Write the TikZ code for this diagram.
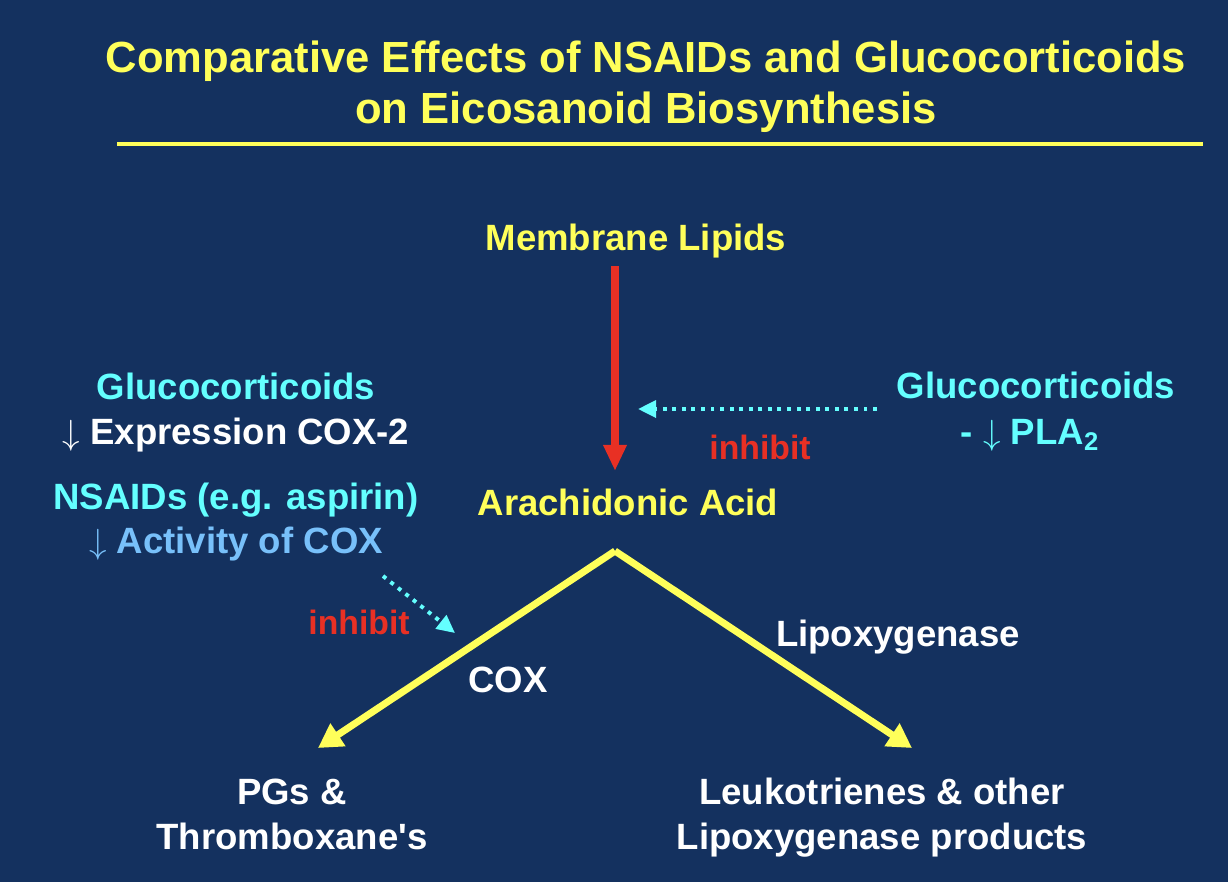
\documentclass[tikz,border=0pt]{standalone}
\usepackage{fontspec}
\setmainfont{Liberation Sans}
\usetikzlibrary{arrows.meta, positioning}
\definecolor{slidebg}{RGB}{20,49,95}
\definecolor{slideyellow}{RGB}{255,255,90}
\definecolor{drugcyan}{RGB}{100,255,255}
\definecolor{coxblue}{RGB}{120,192,250}
\definecolor{inhibred}{RGB}{232,48,36}

\begin{document}
\begin{tikzpicture}[x=0.025cm, y=-0.025cm,
    lbl/.style={font=\fontsize{26}{32}\selectfont\bfseries, align=center, inner sep=0pt,
        text height=0.75em, text depth=0.22em},
    inhibitlbl/.style={lbl, font=\fontsize{24}{28}\selectfont\bfseries, inhibred},
    flowarrow/.style={-{Triangle[length=0.65cm, width=0.55cm]}, line width=5pt, inhibred},
    patharrow/.style={-{Triangle[length=0.6cm, width=0.65cm]}, line width=5pt, slideyellow},
    blockarrow/.style={-{Triangle[length=0.45cm, width=0.42cm]}, line width=2.8pt, drugcyan,
        dash pattern=on 2.8pt off 4pt}]
    \fill[slidebg] (0,0) rectangle (1228,882);

    % title
    \node[font=\fontsize{31}{36}\selectfont\bfseries, slideyellow, align=center] (title) at (646,87)
        {Comparative Effects of NSAIDs and Glucocorticoids\\on Eicosanoid Biosynthesis};
    \draw[slideyellow, line width=3pt] (117,144) -- (1203,144);

    % main pathway
    \node[lbl, slideyellow] (membrane) at (636,247) {Membrane Lipids};
    \node[lbl, slideyellow] (arachid) at (628,512) {Arachidonic Acid};
    \coordinate (apex) at (615,551);
    \coordinate (coxtip) at (318,748);
    \coordinate (loxtip) at (912,748);
    \draw[flowarrow, shorten <=0.3cm, shorten >=0.85cm]
        (membrane.south -| apex) -- (arachid.north -| apex);
    \draw[patharrow] (apex) -- (coxtip);
    \draw[patharrow] (apex) -- (loxtip);
    \node[lbl, white] (cox) at (508,689) {COX};
    \node[lbl, white] (lox) at (898,643) {Lipoxygenase};
    \node[lbl, white] (pgs) at (292,846) {PGs \&\\Thromboxane\textquotesingle s};
    \node[lbl, white] (leuko) at (882,846) {Leukotrienes \& other\\Lipoxygenase products};

    % left: glucocorticoids and NSAIDs
    \node[lbl, drugcyan] (gcleft) at (236,396) {Glucocorticoids};
    \node[lbl, white] (coxexpr) at (236,441) {$\downarrow$ Expression COX-2};
    \node[lbl, drugcyan] (nsaid) at (236,506) {NSAIDs (e.g. aspirin)};
    \node[lbl, coxblue] (coxact) at (236,550) {$\downarrow$ Activity of COX};
    \coordinate (nsaidfrom) at (383,576);
    \coordinate (nsaidto) at (455,633);
    \draw[blockarrow] (nsaidfrom) -- (nsaidto);
    \node[inhibitlbl] (inhibcox) at (359,631) {inhibit};

    % right: glucocorticoids on PLA2
    \node[lbl, drugcyan] (gcright) at (1036,395) {Glucocorticoids};
    \node[lbl, drugcyan] (pla) at (1030,441) {- $\downarrow$ PLA\textsubscript{2}};
    \coordinate (plafrom) at (877,409);
    \coordinate (plato) at (638,409);
    \draw[blockarrow] (plafrom) -- (plato);
    \node[inhibitlbl] (inhibpla) at (760,456) {inhibit};
\end{tikzpicture}
\end{document}
